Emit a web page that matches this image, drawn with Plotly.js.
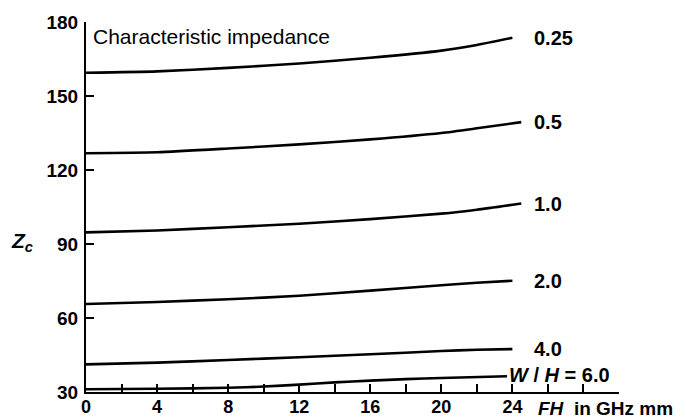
<!DOCTYPE html>
<html>
<head>
<meta charset="utf-8">
<script src="https://cdn.plot.ly/plotly-3.0.1.min.js"></script>
<style>html,body{margin:0;padding:0;background:#fff;}#chart{width:686px;height:418px;}</style>
</head>
<body>
<div id="chart"></div>
<script>
// Data
const fhA = [0, 4, 8, 12, 16, 20, 22, 24];
const fhB = [0, 4, 8, 12, 16, 20, 22, 24.5];
const fh6 = [0, 4, 8, 10, 12, 14, 16, 18, 20, 23.7];
const z025 = [159.4, 160.0, 161.4, 163.2, 165.5, 168.4, 170.7, 173.6];
const z05  = [126.8, 127.2, 128.7, 130.4, 132.4, 135.0, 136.9, 139.4];
const z10  = [94.7, 95.5, 96.8, 98.2, 100.1, 102.3, 103.9, 106.4];
const z20  = [65.7, 66.5, 67.6, 69.0, 71.1, 73.3, 74.3, 75.1];
const z40  = [41.2, 41.9, 43.0, 44.1, 45.3, 46.6, 47.1, 47.4];
const z60  = [31.1, 31.3, 31.7, 32.2, 33.0, 33.9, 34.6, 35.2, 35.7, 36.4];
const ratioLabels = ["0.25", "0.5", "1.0", "2.0", "4.0", "<i>W</i> / <i>H</i> = 6.0"];
const xTickVals = [0, 2, 4, 6, 8, 10, 12, 14, 16, 18, 20, 22, 24, 26, 28, 30];
const xTickText = ["0", " ", "4", " ", "8", " ", "12", " ", "16", " ", "20", " ", "24", " ", " ", " "];
const yTickVals = [30, 60, 90, 120, 150, 180];
const yTickText = ["30", "60", "90", "120", "150", "180"];

const FONT = "Liberation Sans, Arial, Helvetica, sans-serif";
const series = [
  [fhA, z025], [fhB, z05], [fhB, z10], [fhA, z20], [fhA, z40], [fh6, z60]
];
const traces = series.map(([x, y]) => ({
  x: x, y: y, type: "scatter", mode: "lines",
  line: {color: "#000", width: 2.6, shape: "spline", smoothing: 0.6},
  hoverinfo: "skip", showlegend: false, cliponaxis: false
}));

const annotations = series.map(([x, y], i) => ({
  x: i === 5 ? x[x.length - 1] : 25.1,
  y: y[y.length - 1] + (i === 5 ? 0.6 : 0),
  xref: "x", yref: "y",
  text: ratioLabels[i],
  showarrow: false, xanchor: "left", yanchor: "middle",
  font: {family: FONT, size: 20, color: "#000", weight: "bold"}
}));
annotations.push({
  x: 0.3, y: 174, xref: "x", yref: "y", xanchor: "left", yanchor: "middle",
  text: "Characteristic impedance", showarrow: false,
  font: {family: FONT, size: 21, color: "#000"}
});
annotations.push({
  x: -0.12, y: 91, xref: "paper", yref: "y", xanchor: "center", yanchor: "middle",
  text: "<i>Z<sub>c</sub></i>", showarrow: false,
  font: {family: FONT, size: 21, color: "#000", weight: "bold"}
});
annotations.push({
  x: 25.3, y: -0.045, xref: "x", yref: "paper", xanchor: "left", yanchor: "middle",
  text: "<i>FH</i>\u00a0 in GHz mm", showarrow: false,
  font: {family: FONT, size: 19, color: "#000", weight: "bold"}
});

const axisCommon = {
  showline: true, linecolor: "#000", linewidth: 2,
  ticks: "inside", ticklen: 8, tickwidth: 2, tickcolor: "#000",
  showgrid: false, zeroline: false,
  tickfont: {family: FONT, size: 19, color: "#000", weight: "bold"}
};

const layout = {
  width: 686, height: 418,
  margin: {l: 86, r: 67, t: 22, b: 26},
  paper_bgcolor: "#fff", plot_bgcolor: "#fff",
  showlegend: false,
  xaxis: Object.assign({}, axisCommon, {
    range: [0, 30], tickmode: "array", tickvals: xTickVals, ticktext: xTickText,
    tickfont: {family: FONT, size: 18, color: "#000", weight: "bold"},
    ticklabelstandoff: -3
  }),
  yaxis: Object.assign({}, axisCommon, {
    range: [30, 180], tickmode: "array", tickvals: yTickVals, ticktext: yTickText,
    ticklabelstandoff: 2
  }),
  annotations: annotations
};

Plotly.newPlot("chart", traces, layout, {staticPlot: true, displayModeBar: false});
</script>
</body>
</html>
